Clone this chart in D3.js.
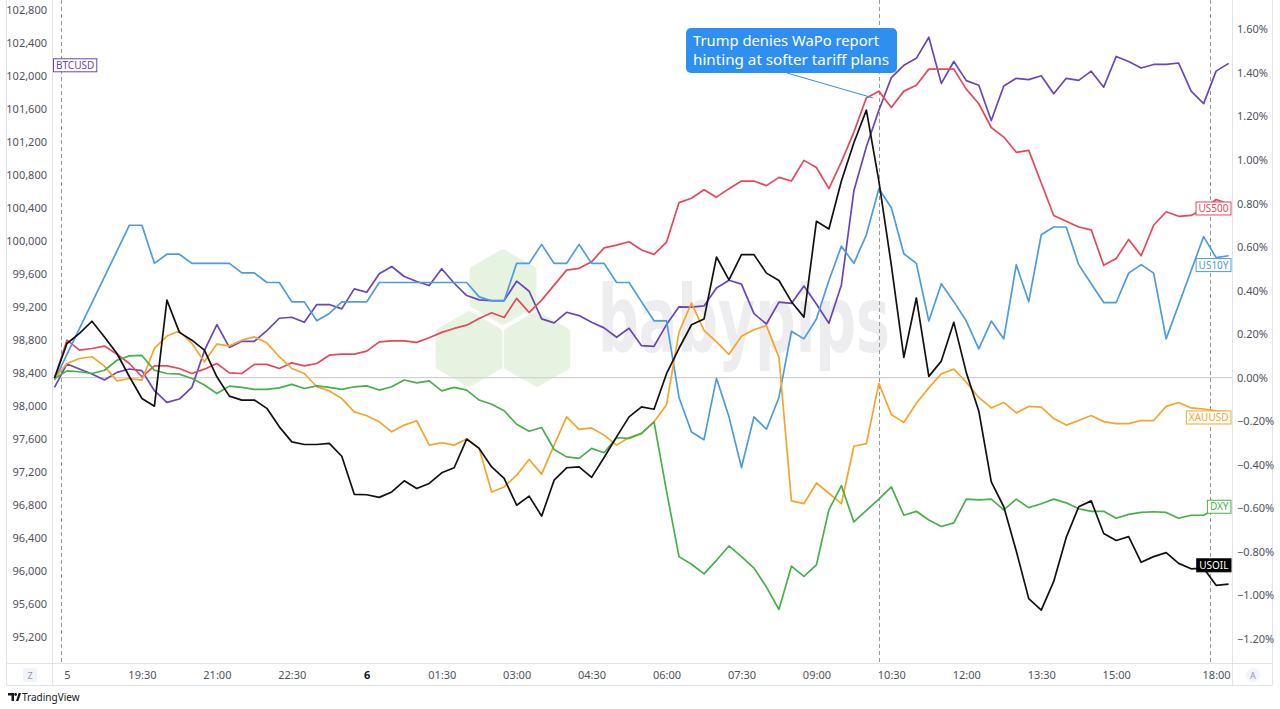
<!DOCTYPE html>
<html><head><meta charset="utf-8">
<script src="https://cdn.jsdelivr.net/npm/d3@7"></script>
<style>body{margin:0;background:#fff}svg{display:block}</style>
</head><body>
<svg id="c" width="1280" height="709"></svg>
<script>
// ---------- DATA ----------
const timeTickIdx  = [1,7,13,19,25,31,37,43,49,55,61,67,73,79,85,93];
const timeTickText = ["5","19:30","21:00","22:30","6","01:30","03:00","04:30","06:00","07:30","09:00","10:30","12:00","13:30","15:00","18:00"];
const leftTicks  = [95200,95600,96000,96400,96800,97200,97600,98000,98400,98800,99200,99600,100000,100400,100800,101200,101600,102000,102400,102800];
const rightTicks = [-1.2,-1.0,-0.8,-0.6,-0.4,-0.2,0,0.2,0.4,0.6,0.8,1.0,1.2,1.4,1.6];

// BTCUSD price (left scale, USD)
const btcusd = [98227,98511,98450,98390,98317,98409,98450,98430,98187,98045,
98086,98227,98672,98988,98712,98785,98785,98915,99065,99077,
99016,99231,99231,99179,99421,99380,99604,99692,99571,99510,
99461,99664,99489,99340,99288,99279,99279,99514,99392,99057,
99009,99137,99097,99016,98948,98834,98943,98733,98725,98988,
99203,99199,99214,99432,99525,99479,99120,98995,99260,99245,
99455,99237,99004,99469,100609,101144,101586,101981,102130,102214,
102470,101911,102176,101944,101888,101460,101879,101972,101957,102004,
101785,101972,101948,102059,101865,102237,102176,102097,102140,102140,
102158,101818,101665,102059,102153];

// Percent change series (right scale, %)
const us500 = [-0.004,0.172,0.126,0.134,0.145,0.108,0.065,0.004,0.054,0.054,
0.042,0.019,0.039,0.065,0.022,0.019,0.061,0.061,0.042,0.068,
0.054,0.065,0.103,0.108,0.108,0.122,0.164,0.169,0.169,0.162,
0.183,0.208,0.226,0.241,0.272,0.298,0.276,0.364,0.299,0.356,
0.425,0.494,0.502,0.532,0.596,0.609,0.624,0.586,0.566,0.622,
0.804,0.824,0.863,0.829,0.868,0.903,0.903,0.882,0.920,0.903,
0.998,0.965,0.868,0.991,1.128,1.285,1.316,1.241,1.316,1.343,
1.417,1.417,1.417,1.325,1.258,1.149,1.105,1.035,1.044,0.894,
0.745,0.718,0.692,0.679,0.516,0.547,0.635,0.560,0.700,0.762,
0.741,0.745,0.776,0.818,0.797];

const us10y = [-0.011,null,null,null,null,null,0.700,0.700,0.525,0.567,
0.567,0.525,0.525,0.525,0.525,0.481,0.481,0.437,0.437,0.348,
0.348,0.261,0.295,0.348,0.348,0.348,0.437,0.437,0.437,0.437,
0.437,0.437,0.437,0.437,0.371,0.353,0.353,0.525,0.525,0.612,
0.525,0.525,0.612,0.525,0.525,0.437,0.437,0.348,0.261,0.261,
-0.091,-0.250,-0.285,-0.003,-0.180,-0.413,-0.180,-0.237,-0.091,0.213,
0.178,0.269,0.446,0.604,0.525,0.656,0.868,0.780,0.569,0.525,
0.260,0.431,0.349,0.260,0.132,0.260,0.178,0.519,0.349,0.656,
0.692,0.692,0.519,0.431,0.345,0.345,0.480,0.519,0.480,0.178,
null,null,0.648,0.551,0.560];

const xauusd = [-0.004,0.065,0.088,0.096,0.053,-0.015,-0.004,-0.011,0.134,0.191,
0.214,0.157,0.073,0.154,0.146,0.172,0.187,0.160,0.096,0.042,
0.019,-0.042,-0.061,-0.096,-0.157,-0.175,-0.203,-0.249,-0.218,-0.198,
-0.310,-0.299,-0.310,-0.282,-0.325,-0.525,-0.502,-0.448,-0.376,-0.443,
-0.310,-0.180,-0.238,-0.231,-0.264,-0.310,-0.275,-0.256,-0.203,-0.124,
0.209,0.343,0.217,0.164,0.107,0.190,0.220,0.239,0.093,-0.566,
-0.579,-0.484,-0.531,-0.579,-0.315,-0.303,-0.026,-0.170,-0.206,-0.118,
-0.047,0.018,0.039,-0.021,-0.091,-0.139,-0.114,-0.162,-0.132,-0.135,
-0.188,-0.218,-0.197,-0.174,-0.202,-0.211,-0.211,-0.197,-0.197,-0.132,
-0.114,-0.139,-0.144,-0.153,-0.157];

const dxy = [-0.004,0.031,0.027,0.019,0.034,0.080,0.100,0.102,0.034,0.019,
0.016,-0.004,-0.034,-0.073,-0.039,-0.045,-0.054,-0.054,-0.047,-0.031,
-0.050,-0.038,-0.045,-0.054,-0.042,-0.038,-0.057,-0.042,-0.011,-0.024,
-0.015,-0.061,-0.045,-0.057,-0.103,-0.122,-0.152,-0.214,-0.246,-0.229,
-0.330,-0.364,-0.371,-0.325,-0.345,-0.276,-0.279,-0.256,-0.203,-0.521,
-0.822,-0.857,-0.901,-0.839,-0.773,-0.822,-0.875,-0.962,-1.065,-0.866,
-0.913,-0.860,-0.607,-0.496,-0.663,-0.610,-0.558,-0.502,-0.632,-0.614,
-0.654,-0.684,-0.667,-0.558,-0.561,-0.558,-0.607,-0.558,-0.597,-0.579,
-0.558,-0.575,-0.602,-0.614,-0.614,-0.646,-0.628,-0.619,-0.616,-0.619,
-0.646,-0.632,-0.632,-0.602,-0.597];

const usoil = [-0.002,0.157,0.203,0.259,0.187,0.111,0.004,-0.096,-0.131,0.356,
0.208,0.172,0.126,0.004,-0.085,-0.103,-0.103,-0.141,-0.226,-0.295,
-0.307,-0.307,-0.302,-0.361,-0.536,-0.538,-0.550,-0.525,-0.474,-0.509,
-0.486,-0.437,-0.414,-0.282,-0.325,-0.410,-0.463,-0.586,-0.544,-0.636,
-0.471,-0.414,-0.410,-0.458,-0.367,-0.272,-0.180,-0.134,-0.145,0.018,
0.135,0.243,0.269,0.554,0.449,0.565,0.565,0.480,0.446,0.349,
0.278,0.718,0.683,0.903,1.079,1.229,0.903,0.516,0.093,0.366,
0.006,0.076,0.254,0.023,-0.153,-0.479,-0.593,-0.796,-1.015,-1.068,
-0.936,-0.734,-0.593,-0.566,-0.716,-0.748,-0.730,-0.848,-0.822,-0.804,
-0.853,-0.878,-0.875,-0.954,-0.948];

const sessionBreaks = [0.5, 92.5];
const eventIndex = 66;
const eventText = ["Trump denies WaPo report", "hinting at softer tariff plans"];

// ---------- STYLE / LAYOUT ----------
const FONT = "'Noto Sans', 'Open Sans', sans-serif";
const svg = d3.select("#c");
const P = {l:52, r:1232, b:663, axisB:685, frameL:6, frameR:1272};
const x  = d3.scaleLinear().domain([0, 94]).range([54.5, 1228.6]);
const yP = d3.scaleLinear().domain([-1.2, 1.6]).range([638.9, 29.3]);
const yB = d3.scaleLinear().domain([95200, 102800]).range([637.2, 10]);

svg.append("rect").attr("width",1280).attr("height",709).attr("fill","#fff");

// watermark
const wm = svg.append("g");
function hex(cx, cy, R){
  const pts = d3.range(6).map(k => { const a = Math.PI/180*(60*k-90); return [cx+R*Math.cos(a), cy+R*Math.sin(a)]; });
  return d3.line().curve(d3.curveLinearClosed)(pts);
}
[[503,287],[469,349],[537,349]].forEach(c => wm.append("path").attr("d", hex(c[0],c[1],35))
  .attr("fill","#e6f3e0").attr("stroke","#e6f3e0").attr("stroke-width",6).attr("stroke-linejoin","round"));
wm.append("text").attr("x",598).attr("y",352).attr("font-family","'DejaVu Sans', sans-serif")
  .attr("font-weight","bold").attr("font-size",92).attr("fill","#ededf0")
  .attr("textLength",292).attr("lengthAdjust","spacingAndGlyphs").text("babypips");

// frame lines
const frame = svg.append("g").attr("stroke","#e0e3eb").attr("stroke-width",1).attr("shape-rendering","crispEdges");
frame.append("line").attr("x1",P.frameL+.5).attr("x2",P.frameL+.5).attr("y1",0).attr("y2",P.axisB);
frame.append("line").attr("x1",P.frameR+.5).attr("x2",P.frameR+.5).attr("y1",0).attr("y2",P.axisB);
frame.append("line").attr("x1",P.l+.5).attr("x2",P.l+.5).attr("y1",0).attr("y2",P.axisB);
frame.append("line").attr("x1",P.r+.5).attr("x2",P.r+.5).attr("y1",0).attr("y2",P.axisB);
frame.append("line").attr("x1",P.frameL).attr("x2",P.frameR).attr("y1",P.b+.5).attr("y2",P.b+.5);
frame.append("line").attr("x1",P.frameL).attr("x2",P.frameR).attr("y1",P.axisB+.5).attr("y2",P.axisB+.5);

// zero line
svg.append("line").attr("x1",P.l).attr("x2",P.r).attr("y1",yP(0)).attr("y2",yP(0))
  .attr("stroke","#d2d2d2").attr("stroke-width",1.4);

// dashed verticals
sessionBreaks.concat([eventIndex]).forEach(i => svg.append("line")
  .attr("x1",Math.round(x(i))+.5).attr("x2",Math.round(x(i))+.5).attr("y1",0).attr("y2",P.b)
  .attr("stroke","#9598a1").attr("stroke-width",1).attr("stroke-dasharray","4,3"));

// series lines
const seriesDefs = [
  {data: btcusd, scale: yB, color:"#6b45b8"},
  {data: us500,  scale: yP, color:"#e5485a"},
  {data: us10y,  scale: yP, color:"#4d9be0"},
  {data: xauusd, scale: yP, color:"#f5a52b"},
  {data: dxy,    scale: yP, color:"#47b04b"},
  {data: usoil,  scale: yP, color:"#111111"}
];
seriesDefs.forEach(s => {
  const pts = s.data.map((v,i)=>[i,v]).filter(d => d[1] != null);
  svg.append("path").datum(pts)
    .attr("d", d3.line().x(d=>x(d[0])).y(d=>s.scale(d[1])))
    .attr("fill","none").attr("stroke",s.color).attr("stroke-width",1.7)
    .attr("stroke-linejoin","round");
});

// axes
const txtColor = "#50535e";
const gl = svg.append("g").attr("transform","translate(47,0)")
  .call(d3.axisLeft(yB).tickValues(leftTicks).tickSize(0).tickPadding(0).tickFormat(d3.format(",")));
const gr = svg.append("g").attr("transform","translate(1237,0)")
  .call(d3.axisRight(yP).tickValues(rightTicks).tickSize(0).tickPadding(0)
    .tickFormat(d => (d < 0 ? "\u2212" : "") + Math.abs(d).toFixed(2) + "%"));
const gb = svg.append("g").attr("transform",`translate(0,${P.b})`)
  .call(d3.axisBottom(x).tickValues(timeTickIdx).tickSize(0).tickPadding(8).tickFormat((d,i)=>timeTickText[i]));
[gl,gr,gb].forEach(g => { g.select(".domain").remove();
  g.selectAll("text").attr("font-family",FONT).attr("font-size",11).attr("fill",txtColor); });
gb.selectAll("text").filter((d,i)=>timeTickText[i]==="6").attr("font-weight","bold").attr("fill","#131722");

// series tags
const tags = [
  {name:"BTCUSD", scale:yB, value:102130, color:"#6b45b8", side:"left"},
  {name:"US500",  scale:yP, value:0.777,  color:"#e5485a"},
  {name:"US10Y",  scale:yP, value:0.517,  color:"#4d9be0"},
  {name:"XAUUSD", scale:yP, value:-0.183, color:"#f5a52b"},
  {name:"DXY",    scale:yP, value:-0.593, color:"#47b04b"},
  {name:"USOIL",  scale:yP, value:-0.862, color:"#000000", filled:true}
];
tags.forEach(t => {
  const g = svg.append("g");
  const cy = t.scale(t.value);
  const tx = g.append("text").attr("font-family",FONT).attr("font-size",10)
    .attr("fill", t.filled ? "#fff" : t.color).attr("dy","0.35em").attr("y",cy).text(t.name);
  const w = tx.node().getComputedTextLength() + 5;
  const x0 = t.side === "left" ? 53.5 : 1231 - w;
  tx.attr("x", x0 + 2.5);
  g.insert("rect","text").attr("x",x0).attr("y",cy-6.5).attr("width",w).attr("height",13)
    .attr("fill", t.filled ? "#000" : "#fff").attr("stroke",t.color).attr("stroke-width",1);
});

// callout
const cg = svg.append("g");
cg.append("line").attr("x1",787).attr("y1",73).attr("x2",x(eventIndex)-6).attr("y2",yP(us500[eventIndex-1]))
  .attr("stroke","#2f8ff0").attr("stroke-width",1);
cg.append("rect").attr("x",686).attr("y",28).attr("width",211).attr("height",45).attr("rx",5)
  .attr("fill","#2f8ff0");
const lineW = [186, 196];
eventText.forEach((s,i) => cg.append("text").attr("x",693).attr("y",45.5+i*19.5)
  .attr("font-family",FONT).attr("font-size",14).attr("fill","#fff")
  .attr("textLength",lineW[i]).attr("lengthAdjust","spacingAndGlyphs").text(s));

// bottom corner buttons
svg.append("rect").attr("x",23).attr("y",668).attr("width",14).attr("height",14).attr("rx",2).attr("fill","#f0f3fa");
svg.append("text").attr("x",30).attr("y",678.5).attr("text-anchor","middle").attr("font-family",FONT)
  .attr("font-size",9).attr("fill","#9598a1").text("Z");
svg.append("circle").attr("cx",1253).attr("cy",675).attr("r",7).attr("fill","#f0f3fa");
svg.append("text").attr("x",1253).attr("y",678.5).attr("text-anchor","middle").attr("font-family",FONT)
  .attr("font-size",9).attr("fill","#9598a1").text("A");

// TradingView footer
const lg = svg.append("g").attr("fill","#131722");
lg.append("path").attr("d","M8,693 h6 v8 h-2.5 v-5.5 h-3.5 z");
lg.append("circle").attr("cx",15.6).attr("cy",694.5).attr("r",1.4);
lg.append("path").attr("d","M16,701 l2.6,-8 h2.4 l-2.6,8 z");
svg.append("text").attr("x",22).attr("y",701).attr("font-family",FONT).attr("font-size",10)
  .attr("fill","#131722").text("TradingView");
</script>
</body></html>
